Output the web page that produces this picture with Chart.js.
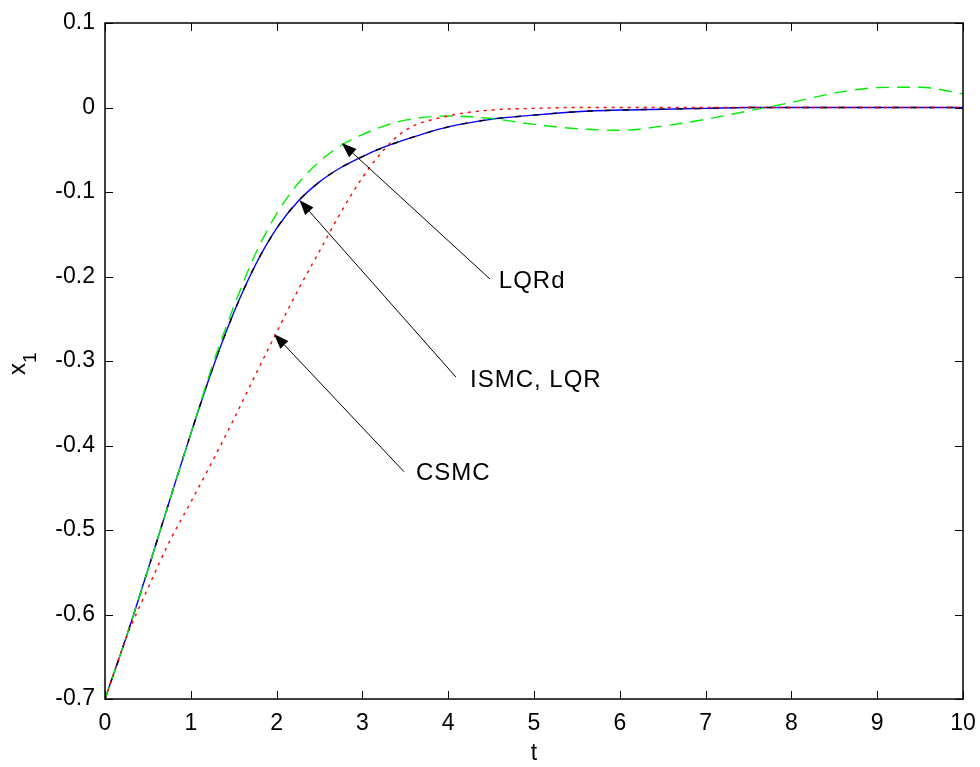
<!DOCTYPE html>
<html>
<head>
<meta charset="utf-8">
<script src="https://cdn.jsdelivr.net/npm/chart.js@4/dist/chart.umd.min.js"></script>
<style>
  body { margin: 0; background: #fff; }
  canvas { display: block; }
</style>
</head>
<body>
<canvas id="plot" width="980" height="767"></canvas>
<script>
// time samples (s)
const t = [0, 0.25, 0.5, 0.75, 1, 1.25, 1.5, 1.75, 2, 2.25, 2.5, 2.75, 3, 3.25, 3.5, 4, 4.5, 5, 5.5, 6, 6.5, 7, 7.5, 8, 8.5, 9, 9.5, 10];

// x1
const ismc = [-0.700, -0.626, -0.547, -0.466, -0.386, -0.310, -0.243, -0.187, -0.143, -0.111, -0.088, -0.071, -0.058, -0.047, -0.038, -0.023, -0.014, -0.009, -0.005, -0.003, -0.002, -0.001, 0, 0, 0, 0, 0, 0];
const lqr = ismc.slice();
const lqrd = [-0.700, -0.626, -0.547, -0.466, -0.386, -0.306, -0.236, -0.174, -0.126, -0.090, -0.064, -0.045, -0.032, -0.022, -0.015, -0.010, -0.013, -0.020, -0.025, -0.027, -0.022, -0.014, -0.004, 0.006, 0.017, 0.0235, 0.024, 0.016];
const csmc = [-0.700, -0.627, -0.569, -0.514, -0.467, -0.419, -0.369, -0.317, -0.266, -0.216, -0.170, -0.124, -0.083, -0.050, -0.027, -0.010, -0.003, -0.001, 0, 0, 0, 0, 0, 0, 0, 0, 0, 0];

const xTicks = [0, 1, 2, 3, 4, 5, 6, 7, 8, 9, 10];
const yTicks = [-0.7, -0.6, -0.5, -0.4, -0.3, -0.2, -0.1, 0, 0.1];
const yTickLabels = ['-0.7', '-0.6', '-0.5', '-0.4', '-0.3', '-0.2', '-0.1', '0', '0.1'];

// annotation arrows: label text, label anchor, arrow tail, arrow tip (data units)
const notes = [
  { text: 'LQRd', at: [4.59, -0.206], from: [4.487, -0.203], to: [2.759, -0.042] },
  { text: 'ISMC, LQR', at: [4.254, -0.3225], from: [4.09, -0.319], to: [2.265, -0.1095] },
  { text: 'CSMC', at: [3.625, -0.433], from: [3.485, -0.431], to: [1.97, -0.268] },
];

const FONT = 'Arial, "Liberation Sans", Helvetica, sans-serif';
Chart.defaults.font.family = FONT;
Chart.defaults.color = '#000';

const pts = ys => t.map((x, i) => ({ x: x, y: ys[i] }));

function line(label, ys, color, dash, order) {
  return {
    label: label,
    data: pts(ys),
    borderColor: color,
    borderWidth: 1.4,
    borderDash: dash,
    pointRadius: 0,
    fill: false,
    cubicInterpolationMode: 'monotone',
    order: order,
  };
}

const frame = {
  id: 'frame',
  afterDatasetsDraw(chart) {
    const { ctx, chartArea: a, scales } = chart;
    const tl = 8;
    ctx.save();
    ctx.strokeStyle = '#000';
    ctx.lineWidth = 1.5;
    ctx.strokeRect(a.left, a.top, a.right - a.left, a.bottom - a.top);
    ctx.beginPath();
    xTicks.forEach(v => {
      const px = Math.round(scales.x.getPixelForValue(v)) + 0.5;
      ctx.moveTo(px, a.bottom); ctx.lineTo(px, a.bottom - tl);
      ctx.moveTo(px, a.top); ctx.lineTo(px, a.top + tl);
    });
    yTicks.forEach(v => {
      const py = Math.round(scales.y.getPixelForValue(v)) + 0.5;
      ctx.moveTo(a.left, py); ctx.lineTo(a.left + tl, py);
      ctx.moveTo(a.right, py); ctx.lineTo(a.right - tl, py);
    });
    ctx.lineWidth = 1;
    ctx.stroke();

    // arrows + labels
    ctx.fillStyle = '#000';
    ctx.textBaseline = 'middle';
    notes.forEach(n => {
      const x0 = scales.x.getPixelForValue(n.from[0]), y0 = scales.y.getPixelForValue(n.from[1]);
      const x1 = scales.x.getPixelForValue(n.to[0]), y1 = scales.y.getPixelForValue(n.to[1]);
      const ang = Math.atan2(y1 - y0, x1 - x0);
      const hl = 15, hw = 5.5;
      ctx.beginPath();
      ctx.moveTo(x0, y0);
      ctx.lineTo(x1 - hl * Math.cos(ang), y1 - hl * Math.sin(ang));
      ctx.lineWidth = 1;
      ctx.stroke();
      ctx.beginPath();
      ctx.moveTo(x1, y1);
      ctx.lineTo(x1 - hl * Math.cos(ang) + hw * Math.sin(ang), y1 - hl * Math.sin(ang) - hw * Math.cos(ang));
      ctx.lineTo(x1 - hl * Math.cos(ang) - hw * Math.sin(ang), y1 - hl * Math.sin(ang) + hw * Math.cos(ang));
      ctx.closePath();
      ctx.fill();
      ctx.textAlign = 'left';
      ctx.font = '24px ' + FONT;
      ctx.letterSpacing = '1px';
      ctx.fillText(n.text, scales.x.getPixelForValue(n.at[0]), scales.y.getPixelForValue(n.at[1]));
      ctx.letterSpacing = '0px';
    });

    // y axis title x1 (rotated, with subscript)
    ctx.textBaseline = 'alphabetic';
    ctx.translate(25, (a.top + a.bottom) / 2 + 14);
    ctx.rotate(-Math.PI / 2);
    ctx.textAlign = 'left';
    ctx.font = '24px ' + FONT;
    ctx.fillText('x', 0, 0);
    ctx.font = '19px ' + FONT;
    ctx.fillText('1', 12, 11);
    ctx.restore();
  }
};

new Chart(document.getElementById('plot'), {
  type: 'line',
  data: {
    datasets: [
      line('CSMC', csmc, '#ff0000', [3, 5], 1),
      line('LQRd', lqrd, '#00ee00', [13, 8], 2),
      line('ISMC', ismc, '#000000', [6, 12], 3),
      line('LQR', lqr, '#0000ff', [], 4),
    ],
  },
  options: {
    responsive: false,
    animation: false,
    layout: { padding: { top: 23, right: 17, left: 0, bottom: 0 } },
    scales: {
      x: {
        type: 'linear',
        min: 0,
        max: 10,
        afterBuildTicks: s => { s.ticks = xTicks.map(v => ({ value: v })); },
        afterFit: s => { s.height = 68; s.paddingLeft = 0; s.paddingRight = 0; },
        grid: { display: false, drawTicks: false },
        border: { display: false },
        ticks: { font: { size: 23 }, padding: 11, maxRotation: 0 },
        title: { display: true, text: 't', font: { size: 23 }, padding: { top: 0, bottom: 0 } },
      },
      y: {
        min: -0.7,
        max: 0.1,
        afterBuildTicks: s => { s.ticks = yTicks.map(v => ({ value: v })); },
        afterFit: s => { s.width = 105; s.paddingTop = 0; s.paddingBottom = 0; },
        grid: { display: false, drawTicks: false },
        border: { display: false },
        ticks: { font: { size: 23 }, padding: 10, callback: (v, i) => yTickLabels[i] },
      },
    },
    plugins: {
      legend: { display: false },
      tooltip: { enabled: false },
    },
  },
  plugins: [frame],
});
</script>
</body>
</html>
